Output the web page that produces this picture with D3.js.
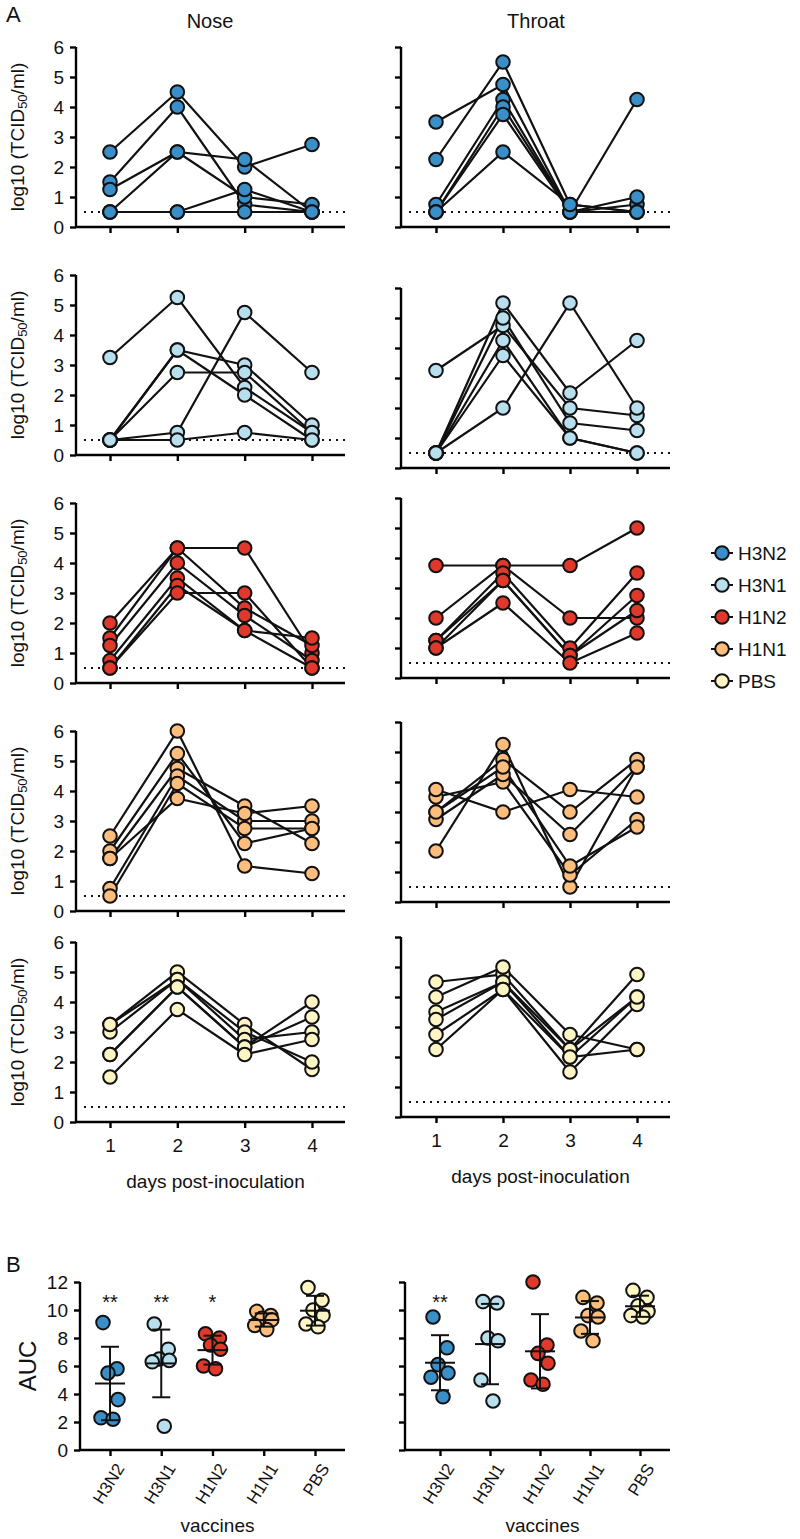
<!DOCTYPE html>
<html><head><meta charset="utf-8">
<script src="https://cdn.jsdelivr.net/npm/d3@7"></script>
<style>body{margin:0;background:#fff} text{font-family:"Liberation Sans",Arial,sans-serif;fill:#111}</style>
</head><body><svg id="c" width="800" height="1539"></svg>
<script>
const days = [1, 2, 3, 4];
const dayLabels = ["1", "2", "3", "4"];
const groups = ["H3N2", "H3N1", "H1N2", "H1N1", "PBS"];
const groupColors = ["#3b8fc8", "#b8dfed", "#e0382b", "#fcbd7d", "#fdf6c4"];
const yTicksA = [0, 1, 2, 3, 4, 5, 6];
const yTicksB = [0, 2, 4, 6, 8, 10, 12];
const detectionLimit = 0.5;

// log10 titres per animal, days 1-4
const noseH3N2 = [[2.5,4.5,2.0,2.75],[1.5,4.0,0.75,0.5],[1.25,2.5,2.25,0.5],[0.5,2.5,1.0,0.75],[0.5,0.5,1.25,0.5],[0.5,0.5,0.5,0.5]];
const throatH3N2 = [[3.5,4.75,0.5,0.75],[2.25,5.5,0.75,0.5],[0.75,4.25,0.5,1.0],[0.5,4.0,0.5,4.25],[0.5,3.75,0.5,0.5],[0.5,2.5,0.75,0.5]];
const noseH3N1 = [[3.25,5.25,2.25,0.75],[0.5,0.75,4.75,2.75],[0.5,3.5,3.0,1.0],[0.5,3.5,2.0,0.5],[0.5,2.75,2.75,0.75],[0.5,0.5,0.75,0.5]];
const throatH3N1 = [[3.25,4.75,2.0,1.75],[0.5,2.0,5.5,2.0],[0.5,5.5,2.5,4.25],[0.5,5.0,1.5,1.25],[0.5,4.25,1.0,0.5],[0.5,3.75,1.0,0.5]];
const noseH1N2 = [[2.0,4.5,4.5,1.0],[1.5,4.5,2.5,1.25],[1.25,4.0,2.25,0.75],[0.75,3.5,1.75,0.5],[0.5,3.25,1.75,1.5],[0.5,3.0,3.0,0.5]];
const throatH1N2 = [[3.75,3.75,3.75,5.0],[2.0,3.75,2.0,2.0],[1.25,3.5,1.0,3.5],[1.25,3.25,0.75,2.75],[1.0,3.25,0.75,2.25],[1.0,2.5,0.5,1.5]];
const noseH1N1 = [[2.5,6.0,1.5,1.25],[2.0,5.25,2.25,2.75],[1.75,4.75,3.5,2.25],[0.75,4.5,3.0,3.0],[0.5,4.25,2.75,2.75],[1.75,3.75,3.25,3.5]];
const throatH1N1 = [[1.7,5.25,0.5,4.5],[3.0,4.75,3.0,4.75],[3.5,4.0,0.9,2.75],[3.75,3.0,3.75,3.5],[2.75,4.25,2.25,4.5],[3.0,4.5,1.2,2.5]];
const nosePBS = [[3.25,5.0,3.25,1.75],[3.0,4.75,3.0,2.0],[3.25,4.75,2.75,3.0],[2.25,4.5,2.5,4.0],[2.25,4.5,2.5,3.5],[1.5,3.75,2.25,2.75]];
const throatPBS = [[4.5,4.75,2.25,4.75],[4.0,5.0,2.75,2.25],[3.5,4.5,2.0,2.25],[3.25,4.5,2.25,4.0],[2.75,4.25,1.5,3.75],[2.25,4.25,2.0,4.0]];

// AUC per animal
const aucNoseH3N2 = [9.1,5.8,5.5,3.6,2.3,2.2];
const aucNoseH3N1 = [9.0,7.2,6.5,6.4,6.3,1.7];
const aucNoseH1N2 = [8.3,8.0,7.5,7.2,6.0,5.8];
const aucNoseH1N1 = [9.9,9.6,9.4,9.3,8.9,8.6];
const aucNosePBS = [11.6,10.7,10.0,9.6,9.0,8.8];
const aucThroatH3N2 = [9.5,7.3,6.1,5.5,5.2,3.8];
const aucThroatH3N1 = [10.6,10.5,8.0,7.8,5.0,3.5];
const aucThroatH1N2 = [12.0,7.5,6.9,6.2,5.0,4.7];
const aucThroatH1N1 = [10.9,10.5,9.6,9.5,8.5,7.8];
const aucThroatPBS = [11.4,10.9,10.3,9.9,9.6,9.5];
const sigNose = ["**", "**", "*", "", ""];
const sigThroat = ["**", "", "", "", ""];

const noseSets = [noseH3N2, noseH3N1, noseH1N2, noseH1N1, nosePBS];
const throatSets = [throatH3N2, throatH3N1, throatH1N2, throatH1N1, throatPBS];
const aucNose = [aucNoseH3N2, aucNoseH3N1, aucNoseH1N2, aucNoseH1N1, aucNosePBS];
const aucThroat = [aucThroatH3N2, aucThroatH3N1, aucThroatH1N2, aucThroatH1N1, aucThroatPBS];

const svg = d3.select("#c");
const AXW = 2.4;

// layout
const noseTop = [47, 275, 503, 731, 942];
const throatTop = [47, 288, 498, 722, 937];
const panelH = 180;
const cols = [
  {name: "Nose", axisX: 76, endX: 345, d1: 110, d4: 312, tops: noseTop, sets: noseSets, labels: true},
  {name: "Throat", axisX: 401, endX: 670, d1: 436, d4: 637, tops: throatTop, sets: throatSets, labels: false}
];

svg.append("text").attr("x", 6).attr("y", 22).attr("font-size", 22).text("A");
svg.append("text").attr("x", 210).attr("y", 28).attr("font-size", 20).attr("text-anchor", "middle").text("Nose");
svg.append("text").attr("x", 536).attr("y", 28).attr("font-size", 20).attr("text-anchor", "middle").text("Throat");

cols.forEach((col, ci) => {
  const x = d3.scaleLinear().domain([1, 4]).range([col.d1, col.d4]);
  col.tops.forEach((top, ri) => {
    const y = d3.scaleLinear().domain([0, 6]).range([top + panelH, top]);
    const g = svg.append("g");
    const ya = d3.axisLeft(y).tickValues(yTicksA).tickSize(6).tickPadding(6)
      .tickFormat(col.labels ? d3.format("d") : () => "");
    const yg = g.append("g").attr("transform", `translate(${col.axisX},0)`).call(ya);
    yg.select(".domain").attr("stroke-width", AXW).attr("d", `M0,${y(6)}V${y(0)}`);
    yg.selectAll(".tick line").attr("stroke-width", AXW);
    yg.selectAll("text").attr("font-size", 19).style("font-family", "Liberation Sans, Arial");
    const xa = d3.axisBottom(x).tickValues(days).tickSize(6)
      .tickFormat((d, i) => ri === 4 ? dayLabels[i] : "");
    const xg = g.append("g").attr("transform", `translate(0,${y(0)})`).call(xa);
    xg.select(".domain").attr("stroke-width", AXW).attr("d", `M${col.axisX},0H${col.endX}`);
    xg.selectAll(".tick line").attr("stroke-width", AXW);
    xg.selectAll("text").attr("font-size", 19).attr("dy", "1.1em").style("font-family", "Liberation Sans, Arial");
    g.append("line").attr("x1", col.axisX + 8).attr("x2", col.endX)
      .attr("y1", y(detectionLimit)).attr("y2", y(detectionLimit))
      .attr("stroke", "#111").attr("stroke-width", 2).attr("stroke-dasharray", "2,5");
    const data = col.sets[ri];
    const line = d3.line().x((d, i) => x(days[i])).y(d => y(d));
    g.selectAll("path.series").data(data).enter().append("path").attr("class", "series")
      .attr("d", line).attr("fill", "none").attr("stroke", "#111").attr("stroke-width", 2.2);
    const pts = [];
    data.forEach(a => a.forEach((v, i) => pts.push({d: days[i], v})));
    g.selectAll("circle").data(pts).enter().append("circle")
      .attr("cx", p => x(p.d)).attr("cy", p => y(p.v)).attr("r", 6.8)
      .attr("fill", groupColors[ri]).attr("stroke", "#111").attr("stroke-width", 2);
    if (col.labels) {
      const t = svg.append("text").attr("transform", `translate(24,${top + panelH / 2}) rotate(-90)`)
        .attr("text-anchor", "middle").attr("font-size", 19);
      t.append("tspan").text("log10 (TCID");
      t.append("tspan").attr("font-size", 13).attr("dy", 3).text("50");
      t.append("tspan").attr("dy", -3).text("/ml)");
    }
  });
  svg.append("text").attr("x", (col.axisX + col.endX) / 2 + 5).attr("y", col.tops[4] + panelH + 66)
    .attr("font-size", 19).attr("text-anchor", "middle").text("days post-inoculation");
});

// legend
const lg = svg.append("g");
groups.forEach((gname, i) => {
  const yy = 553 + i * 32;
  lg.append("line").attr("x1", 711).attr("x2", 733).attr("y1", yy).attr("y2", yy).attr("stroke", "#111").attr("stroke-width", 2);
  lg.append("circle").attr("cx", 722).attr("cy", yy).attr("r", 6.8).attr("fill", groupColors[i]).attr("stroke", "#111").attr("stroke-width", 2);
  lg.append("text").attr("x", 738).attr("y", yy + 7).attr("font-size", 19).text(gname);
});

// Panel B
svg.append("text").attr("x", 6).attr("y", 1272).attr("font-size", 22).text("B");
const yB = d3.scaleLinear().domain([0, 12]).range([1450, 1282]);
const jitter = [-7, 7, -2, 8, -9, 3];
const bCols = [
  {axisX: 80, endX: 345, r0: 110, r1: 315, auc: aucNose, sig: sigNose, labels: true},
  {axisX: 405, endX: 670, r0: 440, r1: 640, auc: aucThroat, sig: sigThroat, labels: false}
];
bCols.forEach(col => {
  const x = d3.scalePoint().domain(groups).range([col.r0, col.r1]);
  const g = svg.append("g");
  const ya = d3.axisLeft(yB).tickValues(yTicksB).tickSize(6).tickPadding(6)
    .tickFormat(col.labels ? d3.format("d") : () => "");
  const yg = g.append("g").attr("transform", `translate(${col.axisX},0)`).call(ya);
  yg.select(".domain").attr("stroke-width", AXW).attr("d", `M0,${yB(12)}V${yB(0)}`);
  yg.selectAll(".tick line").attr("stroke-width", AXW);
  yg.selectAll("text").attr("font-size", 19).style("font-family", "Liberation Sans, Arial");
  const xa = d3.axisBottom(x).tickSize(6).tickFormat("");
  const xg = g.append("g").attr("transform", `translate(0,${yB(0)})`).call(xa);
  xg.select(".domain").attr("stroke-width", AXW).attr("d", `M${col.axisX},0H${col.endX}`);
  xg.selectAll(".tick line").attr("stroke-width", AXW);
  groups.forEach((gn, gi) => {
    const cx = x(gn);
    g.append("text").attr("transform", `translate(${cx + 5},${yB(0) + 12}) rotate(-58)`)
      .attr("text-anchor", "end").attr("font-size", 17).attr("dy", "0.7em").text(gn);
    const vals = col.auc[gi];
    vals.forEach((v, k) => {
      g.append("circle").attr("cx", cx + jitter[k]).attr("cy", yB(v)).attr("r", 6.8)
        .attr("fill", groupColors[gi]).attr("stroke", "#111").attr("stroke-width", 2);
    });
    const m = d3.mean(vals), sd = d3.deviation(vals);
    g.append("line").attr("x1", cx).attr("x2", cx).attr("y1", yB(m + sd)).attr("y2", yB(m - sd)).attr("stroke", "#111").attr("stroke-width", 2);
    g.append("line").attr("x1", cx - 15).attr("x2", cx + 15).attr("y1", yB(m)).attr("y2", yB(m)).attr("stroke", "#111").attr("stroke-width", 2);
    [m + sd, m - sd].forEach(e => g.append("line").attr("x1", cx - 9).attr("x2", cx + 9).attr("y1", yB(e)).attr("y2", yB(e)).attr("stroke", "#111").attr("stroke-width", 2));
    if (col.sig[gi]) g.append("text").attr("x", cx).attr("y", yB(10.1)).attr("text-anchor", "middle").attr("font-size", 20).text(col.sig[gi]);
  });
  g.append("text").attr("x", (col.axisX + col.endX) / 2 + 5).attr("y", 1532).attr("font-size", 19).attr("text-anchor", "middle").text("vaccines");
});
svg.append("text").attr("transform", `translate(36,${(yB(0) + yB(12)) / 2}) rotate(-90)`).attr("text-anchor", "middle").attr("font-size", 24).text("AUC");
</script></body></html>
